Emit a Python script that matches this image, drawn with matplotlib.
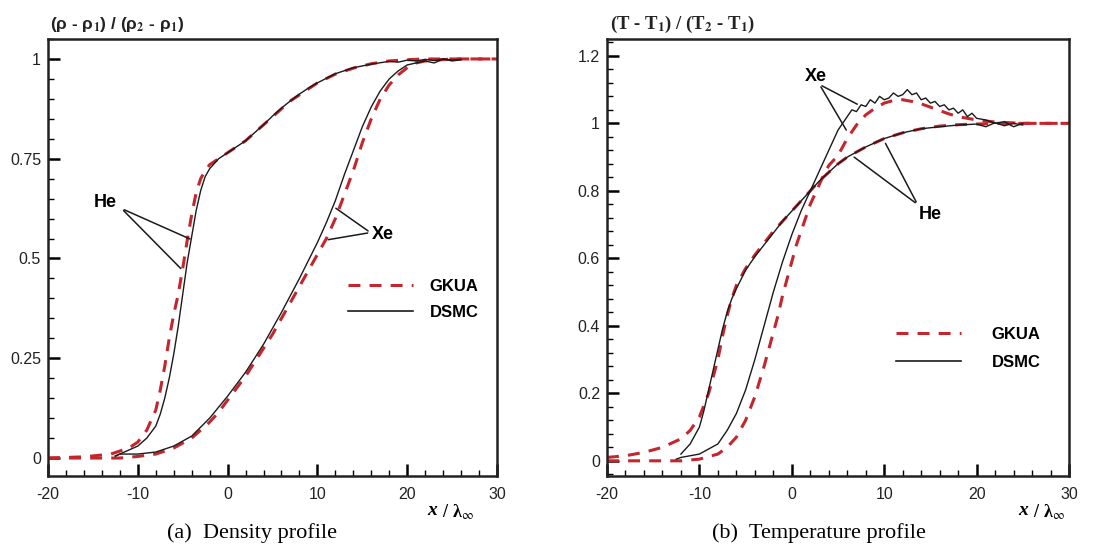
import matplotlib
matplotlib.use("Agg")
import matplotlib.pyplot as plt
from matplotlib.lines import Line2D
from matplotlib.ticker import MultipleLocator

plt.rcParams['mathtext.fontset'] = 'stix'

# ---------------- Density profile data ----------------
den_he_gkua_x = [-20, -16, -13, -11, -10, -9, -8, -7.5, -7, -6.5, -6, -5.5, -5, -4.5, -4, -3.5, -3, -2.5, -2, -1,
                 0, 1, 2, 3, 4, 5, 6, 7, 8, 9, 10, 12, 14, 16, 18, 20, 22, 25, 30]
den_he_gkua_y = [0.0, 0.003, 0.01, 0.025, 0.04, 0.07, 0.12, 0.17, 0.23, 0.30, 0.36, 0.41, 0.475, 0.545, 0.61, 0.665, 0.70, 0.72, 0.735, 0.75,
                 0.765, 0.78, 0.795, 0.815, 0.835, 0.855, 0.875, 0.895, 0.91, 0.925, 0.94, 0.962, 0.977, 0.988, 0.995, 0.998, 1.0, 1.0, 1.0]

den_he_dsmc_x = [-12.5, -12, -11, -10, -9, -8, -7.5, -7, -6.5, -6, -5.5, -5, -4.5, -4, -3.5, -3, -2.5, -2, -1,
                 0, 1, 2, 3, 4, 5, 6, 7, 8, 9, 10, 12, 14, 16, 18, 19, 20, 21, 22, 23, 24, 25, 26]
den_he_dsmc_y = [0.005, 0.01, 0.02, 0.03, 0.05, 0.08, 0.11, 0.15, 0.20, 0.26, 0.33, 0.41, 0.49, 0.555, 0.62, 0.67, 0.705, 0.725, 0.75,
                 0.765, 0.78, 0.795, 0.815, 0.835, 0.857, 0.877, 0.895, 0.912, 0.927, 0.94, 0.963, 0.978, 0.987, 0.994, 0.992, 0.997, 0.995, 0.999, 0.996, 1.0, 0.997, 0.999]

den_xe_gkua_x = [-20, -16, -13, -12, -10, -8, -6, -4, -2, -1, 0, 1, 2, 3, 4, 5, 6, 7, 8, 9, 10, 11, 12, 13, 14, 15,
                 16, 17, 18, 19, 20, 21, 22, 25, 30]
den_xe_gkua_y = [0.0, 0.0, 0.0, 0.0, 0.004, 0.01, 0.025, 0.05, 0.09, 0.115, 0.145, 0.175, 0.205, 0.24, 0.275, 0.31, 0.35, 0.39, 0.43, 0.47, 0.51, 0.55, 0.60, 0.66, 0.72, 0.79,
                 0.85, 0.90, 0.935, 0.96, 0.978, 0.99, 0.995, 1.0, 1.0]

den_xe_dsmc_x = [-12.5, -12, -10, -8, -6, -4, -2, 0, 2, 4, 6, 8, 9, 10, 11, 12, 13, 14, 15, 16, 17, 18, 19, 20,
                 21, 22, 23, 24, 25, 26]
den_xe_dsmc_y = [0.005, 0.01, 0.01, 0.015, 0.03, 0.055, 0.10, 0.155, 0.215, 0.285, 0.365, 0.45, 0.495, 0.54, 0.59, 0.645, 0.71, 0.77, 0.83, 0.88, 0.92, 0.95, 0.97, 0.985,
                 0.99, 0.995, 0.99, 1.0, 0.995, 0.998]

# ---------------- Temperature profile data ----------------
tem_he_gkua_x = [-20, -18, -16, -14, -12, -11, -10, -9, -8, -7.5, -7, -6.5, -6, -5, -4, -3, -2, -1, 0, 1, 2, 3, 4, 5, 6,
                 8, 10, 12, 14, 16, 18, 20, 22, 25, 30]
tem_he_gkua_y = [0.01, 0.015, 0.025, 0.04, 0.065, 0.09, 0.13, 0.20, 0.30, 0.37, 0.43, 0.48, 0.52, 0.57, 0.61, 0.645, 0.68, 0.71, 0.74, 0.77, 0.80, 0.83, 0.855, 0.88, 0.90,
                 0.93, 0.955, 0.972, 0.984, 0.992, 0.996, 0.998, 1.0, 1.0, 1.0]

tem_he_dsmc_x = [-12, -11, -10, -9.5, -9, -8.5, -8, -7.5, -7, -6.5, -6, -5, -4, -3, -2, -1, 0, 1, 2, 3, 4, 5, 6,
                 8, 10, 12, 14, 16, 18, 20, 21, 22, 23, 24, 25]
tem_he_dsmc_y = [0.02, 0.05, 0.10, 0.15, 0.21, 0.27, 0.33, 0.39, 0.44, 0.48, 0.51, 0.565, 0.605, 0.64, 0.675, 0.71, 0.74, 0.77, 0.80, 0.83, 0.855, 0.88, 0.90,
                 0.93, 0.955, 0.972, 0.984, 0.99, 0.995, 0.998, 0.99, 1.002, 0.993, 1.0, 0.995]

tem_xe_gkua_x = [-20, -16, -13, -12, -10, -8, -7, -6, -5, -4, -3, -2, -1.5, -1, -0.5, 0, 0.5, 1, 1.5, 2, 2.5, 3, 3.5, 4,
                 5, 6, 7, 8, 9, 10, 11, 12, 13, 14, 15, 16, 17, 18, 20, 22, 25, 30]
tem_xe_gkua_y = [0.0, 0.0, 0.0, 0.0, 0.005, 0.02, 0.04, 0.07, 0.12, 0.19, 0.28, 0.38, 0.43, 0.49, 0.54, 0.59, 0.64, 0.68, 0.72, 0.76, 0.79, 0.82, 0.85, 0.875,
                 0.905, 0.955, 0.995, 1.025, 1.045, 1.06, 1.068, 1.07, 1.065, 1.058, 1.048, 1.038, 1.028, 1.02, 1.01, 1.004, 1.0, 1.0]

tem_xe_dsmc_x = [-12.5, -12, -10, -8, -7, -6, -5, -4, -3, -2, -1, 0, 1, 2, 3, 4, 4.5, 5, 5.5, 6, 6.5, 7, 7.5, 8, 8.5, 9,
                 9.5, 10, 10.5, 11, 11.5, 12, 12.5, 13, 13.5, 14, 14.5, 15, 15.5, 16, 16.5, 17, 17.5, 18, 18.5,
                 19, 19.5, 20, 21, 22, 23, 24, 25]
tem_xe_dsmc_y = [0.005, 0.01, 0.02, 0.05, 0.09, 0.14, 0.21, 0.30, 0.40, 0.50, 0.59, 0.67, 0.74, 0.80, 0.86, 0.92, 0.95, 0.98, 1.0, 1.02, 1.04, 1.035, 1.055, 1.05, 1.07, 1.06,
                 1.08, 1.07, 1.075, 1.09, 1.08, 1.085, 1.10, 1.085, 1.09, 1.07, 1.075, 1.06, 1.065, 1.05, 1.055, 1.04, 1.045, 1.03, 1.04,
                 1.02, 1.03, 1.015, 1.01, 1.0, 1.005, 0.99, 1.0]

den_yticks = [0, 0.25, 0.5, 0.75, 1]
den_yticklabels = ['0', '0.25', '0.5', '0.75', '1']
tem_yticks = [0, 0.2, 0.4, 0.6, 0.8, 1.0, 1.2]
tem_yticklabels = ['0', '0.2', '0.4', '0.6', '0.8', '1', '1.2']
xticks = [-20, -10, 0, 10, 20, 30]
xticklabels = ['-20', '-10', '0', '10', '20', '30']

RED = '#c4262e'
SANS = ['Liberation Sans', 'DejaVu Sans']
SERIF = ['Liberation Serif', 'DejaVu Serif']

fig = plt.figure(figsize=(11, 5.46), dpi=100)
ax1 = fig.add_axes([48 / 1100, 1 - 476 / 546, 449 / 1100, 437 / 546])
ax2 = fig.add_axes([607 / 1100, 1 - 476 / 546, 462 / 1100, 437 / 546])


def style(ax, yticks, ylabels, yminor, ylim):
    ax.set_xlim(-20, 30)
    ax.set_ylim(*ylim)
    ax.set_xticks(xticks)
    ax.set_xticklabels(xticklabels)
    ax.set_yticks(yticks)
    ax.set_yticklabels(ylabels)
    ax.xaxis.set_minor_locator(MultipleLocator(2))
    ax.yaxis.set_minor_locator(MultipleLocator(yminor))
    ax.tick_params(which='major', direction='in', length=8.5, width=1.8, labelsize=11.5, pad=5)
    ax.tick_params(which='minor', direction='in', length=4.5, width=1.0)
    ax.tick_params(axis='x', which='major', pad=8)
    for lab in ax.get_xticklabels() + ax.get_yticklabels():
        lab.set_family(SANS)
        lab.set_color('#222222')
    for sp in ax.spines.values():
        sp.set_linewidth(1.8)
        sp.set_color('#222222')


def gk(ax, x, y):
    ax.plot(x, y, color=RED, lw=2.2, dashes=(3.9, 3.0))


def ds(ax, x, y):
    ax.plot(x, y, color='#1a1a1a', lw=1.0)


# Left: density
gk(ax1, den_he_gkua_x, den_he_gkua_y)
gk(ax1, den_xe_gkua_x, den_xe_gkua_y)
ds(ax1, den_he_dsmc_x, den_he_dsmc_y)
ds(ax1, den_xe_dsmc_x, den_xe_dsmc_y)
style(ax1, den_yticks, den_yticklabels, 0.05, (-0.045, 1.05))

# Right: temperature
gk(ax2, tem_he_gkua_x, tem_he_gkua_y)
gk(ax2, tem_xe_gkua_x, tem_xe_gkua_y)
ds(ax2, tem_he_dsmc_x, tem_he_dsmc_y)
ds(ax2, tem_xe_dsmc_x, tem_xe_dsmc_y)
style(ax2, tem_yticks, tem_yticklabels, 0.04, (-0.045, 1.25))

# Legends
handles = [Line2D([], [], color=RED, lw=2.2, dashes=(3.9, 3.0)),
           Line2D([], [], color='#1a1a1a', lw=1.2)]
for ax, anchor, pad, sp in [(ax1, (0.635, 0.486), 1.0, 0.7), (ax2, (0.594, 0.375), 1.8, 0.75)]:
    ax.legend(handles, ['GKUA', 'DSMC'], loc='upper left', bbox_to_anchor=anchor, frameon=False,
              handlelength=3.9, handletextpad=pad, labelspacing=sp,
              prop={'family': SANS, 'weight': 'bold', 'size': 12})

# Annotations
akw = dict(color='#1a1a1a', lw=1.1)
ax1.text(-13.6, 0.64, 'He', fontsize=13, fontweight='bold', family=SANS, ha='center', va='center')
ax1.annotate('', xy=(-3.9, 0.546), xytext=(-11.8, 0.625), arrowprops=dict(arrowstyle='-', **akw))
ax1.annotate('', xy=(-5.0, 0.47), xytext=(-11.8, 0.625), arrowprops=dict(arrowstyle='-', **akw))
ax1.text(16.1, 0.56, 'Xe', fontsize=13, fontweight='bold', family=SANS, ha='left', va='center')
ax1.annotate('', xy=(11.8, 0.63), xytext=(15.9, 0.565), arrowprops=dict(arrowstyle='-', **akw))
ax1.annotate('', xy=(10.9, 0.546), xytext=(15.9, 0.565), arrowprops=dict(arrowstyle='-', **akw))

ax2.text(2.6, 1.14, 'Xe', fontsize=13, fontweight='bold', family=SANS, ha='center', va='center')
ax2.annotate('', xy=(7.35, 1.053), xytext=(3.0, 1.115), arrowprops=dict(arrowstyle='-', **akw))
ax2.annotate('', xy=(6.05, 0.973), xytext=(3.0, 1.115), arrowprops=dict(arrowstyle='-', **akw))
ax2.text(15.0, 0.73, 'He', fontsize=13, fontweight='bold', family=SANS, ha='center', va='center')
ax2.annotate('', xy=(10.0, 0.948), xytext=(13.6, 0.76), arrowprops=dict(arrowstyle='-', **akw))
ax2.annotate('', xy=(6.5, 0.905), xytext=(13.6, 0.76), arrowprops=dict(arrowstyle='-', **akw))

# x labels inside tick row
for ax, xpos in [(ax1, 22.2), (ax2, 24.5)]:
    ax.text(xpos, -0.06, 'x', transform=ax.get_xaxis_transform(), fontsize=14, fontweight='bold',
            style='italic', family=SERIF, ha='left', va='top')
ax1.text(23.4, -0.06, r' / λ$_{\infty}$', transform=ax1.get_xaxis_transform(), fontsize=13, fontweight='bold',
         family=SERIF, ha='left', va='top')
ax2.text(25.7, -0.06, r' / λ$_{\infty}$', transform=ax2.get_xaxis_transform(), fontsize=13, fontweight='bold',
         family=SERIF, ha='left', va='top')

# y titles
fig.text(50 / 1100, 1 - 24 / 546, r'(ρ - ρ$_\mathbf{1}$) / (ρ$_\mathbf{2}$ - ρ$_\mathbf{1}$)', fontsize=12.5,
         fontweight='bold', family=SANS, ha='left', va='center', color='#222222')
fig.text(610 / 1100, 1 - 24 / 546, r'(T - T$_\mathbf{1}$) / (T$_\mathbf{2}$ - T$_\mathbf{1}$)', fontsize=13.5,
         fontweight='bold', family=SERIF, ha='left', va='center', color='#222222')

# captions
fig.text(252 / 1100, 1 - 533 / 546, '(a)  Density profile', fontsize=16, family=SERIF, ha='center', va='center')
fig.text(819 / 1100, 1 - 533 / 546, '(b)  Temperature profile', fontsize=16, family=SERIF, ha='center', va='center')

fig.savefig('out.png', dpi=100)
